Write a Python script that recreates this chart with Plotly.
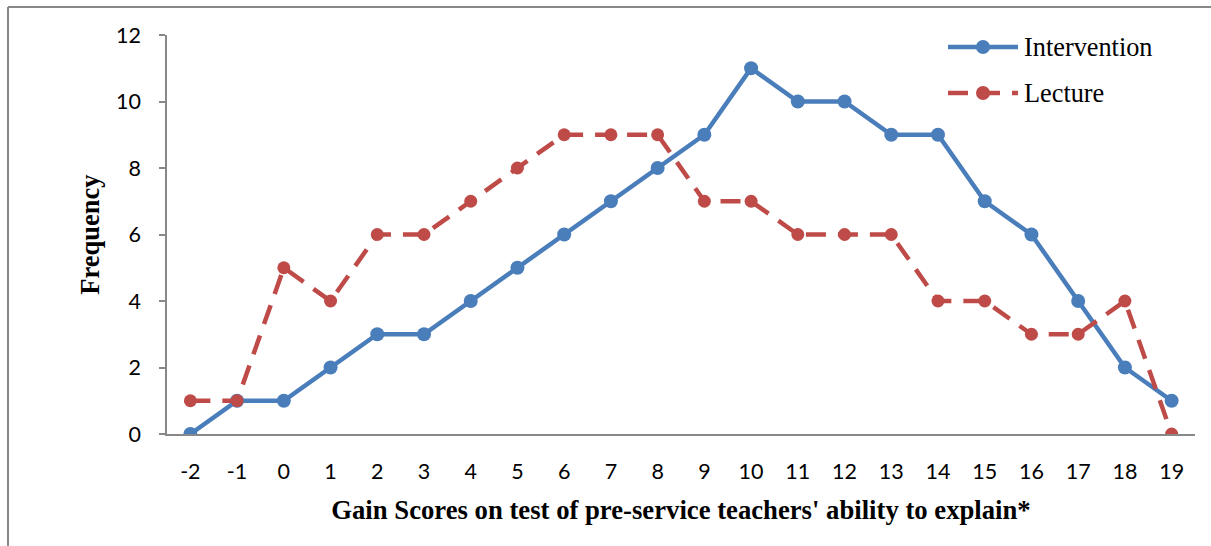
import plotly.graph_objects as go

# Gain score categories and frequency counts per teaching condition
gain_scores = list(range(-2, 20))
intervention = [0, 1, 1, 2, 3, 3, 4, 5, 6, 7, 8, 9, 11, 10, 10, 9, 9, 7, 6, 4, 2, 1]
lecture = [1, 1, 5, 4, 6, 6, 7, 8, 9, 9, 9, 7, 7, 6, 6, 6, 4, 4, 3, 3, 4, 0]
y_ticks = [0, 2, 4, 6, 8, 10, 12]
series_names = ["Intervention", "Lecture"]

BLUE = "#4A7EBB"
RED = "#BE4B48"
AXIS = "#888888"
DASH = "20px,12px"

fig = go.Figure()
fig.add_trace(go.Scatter(
    x=gain_scores, y=intervention, name=series_names[0], mode="lines+markers",
    line=dict(color=BLUE, width=4.5),
    marker=dict(color=BLUE, size=14, symbol="circle"),
))
fig.add_trace(go.Scatter(
    x=gain_scores, y=lecture, name=series_names[1], mode="lines+markers",
    line=dict(color=RED, width=4.5, dash=DASH),
    marker=dict(color=RED, size=13, symbol="circle"),
))

W, H = 1211, 546
ml, mr, mt, mb = 167, 16, 35, 112
pw, ph = W - ml - mr, H - mt - mb

def px_x(p):
    return (p - ml) / pw

def px_y(p):
    return (H - mb - p) / ph

fig.update_layout(
    width=W, height=H,
    margin=dict(l=ml, r=mr, t=mt, b=mb),
    paper_bgcolor="white", plot_bgcolor="white",
    showlegend=False,
    xaxis=dict(
        range=[-2.5, 19.5], tickmode="array", tickvals=gain_scores,
        ticktext=[str(v) for v in gain_scores],
        showgrid=False, zeroline=False, showline=True, linecolor=AXIS, linewidth=1.5,
        ticks="", ticklabelstandoff=17,
        tickfont=dict(family="Lato", size=21.5, color="black"),
        title=dict(text="<b>Gain Scores on test of pre-service teachers' ability to explain*</b>",
                   font=dict(family="Liberation Serif", size=26.7, color="black"),
                   standoff=18),
    ),
    yaxis=dict(
        range=[0, 12], tickmode="array", tickvals=y_ticks,
        showgrid=False, zeroline=False, showline=True, linecolor=AXIS, linewidth=1.5,
        ticks="outside", ticklen=6, tickcolor=AXIS, tickwidth=1.5, ticklabelstandoff=14,
        tickfont=dict(family="Lato", size=21.5, color="black"),
        title=dict(text="<b>Frequency</b>",
                   font=dict(family="Liberation Serif", size=26.5, color="black"),
                   standoff=9),
    ),
)

# Outer chart frame (left and top edges)
fig.add_shape(type="line", xref="paper", yref="paper",
              x0=px_x(8), x1=px_x(8), y0=px_y(7), y1=px_y(560),
              line=dict(color=AXIS, width=2))
fig.add_shape(type="line", xref="paper", yref="paper",
              x0=px_x(8), x1=px_x(1220), y0=px_y(7), y1=px_y(7),
              line=dict(color=AXIS, width=2))
# x axis extension to meet the y tick at zero
fig.add_shape(type="line", xref="paper", yref="paper",
              x0=px_x(160), x1=px_x(167), y0=0, y1=0,
              line=dict(color=AXIS, width=1.5))

# Legend: line sample with a centred marker, followed by the series name
legend_rows = [(series_names[0], BLUE, "solid", 47), (series_names[1], RED, DASH, 93)]
for name, color, dash, yc in legend_rows:
    fig.add_shape(type="line", xref="paper", yref="paper",
                  x0=px_x(948), x1=px_x(1018), y0=px_y(yc), y1=px_y(yc),
                  line=dict(color=color, width=4.5, dash=dash))
    r = 7
    fig.add_shape(type="circle", xref="paper", yref="paper",
                  x0=px_x(983 - r), x1=px_x(983 + r), y0=px_y(yc + r), y1=px_y(yc - r),
                  fillcolor=color, line=dict(color=color, width=0))
    fig.add_annotation(xref="paper", yref="paper", x=px_x(1022), y=px_y(yc),
                       xanchor="left", yanchor="middle", showarrow=False, text=name,
                       font=dict(family="Liberation Serif", size=26.3, color="black"))

fig.write_html("out.html")
